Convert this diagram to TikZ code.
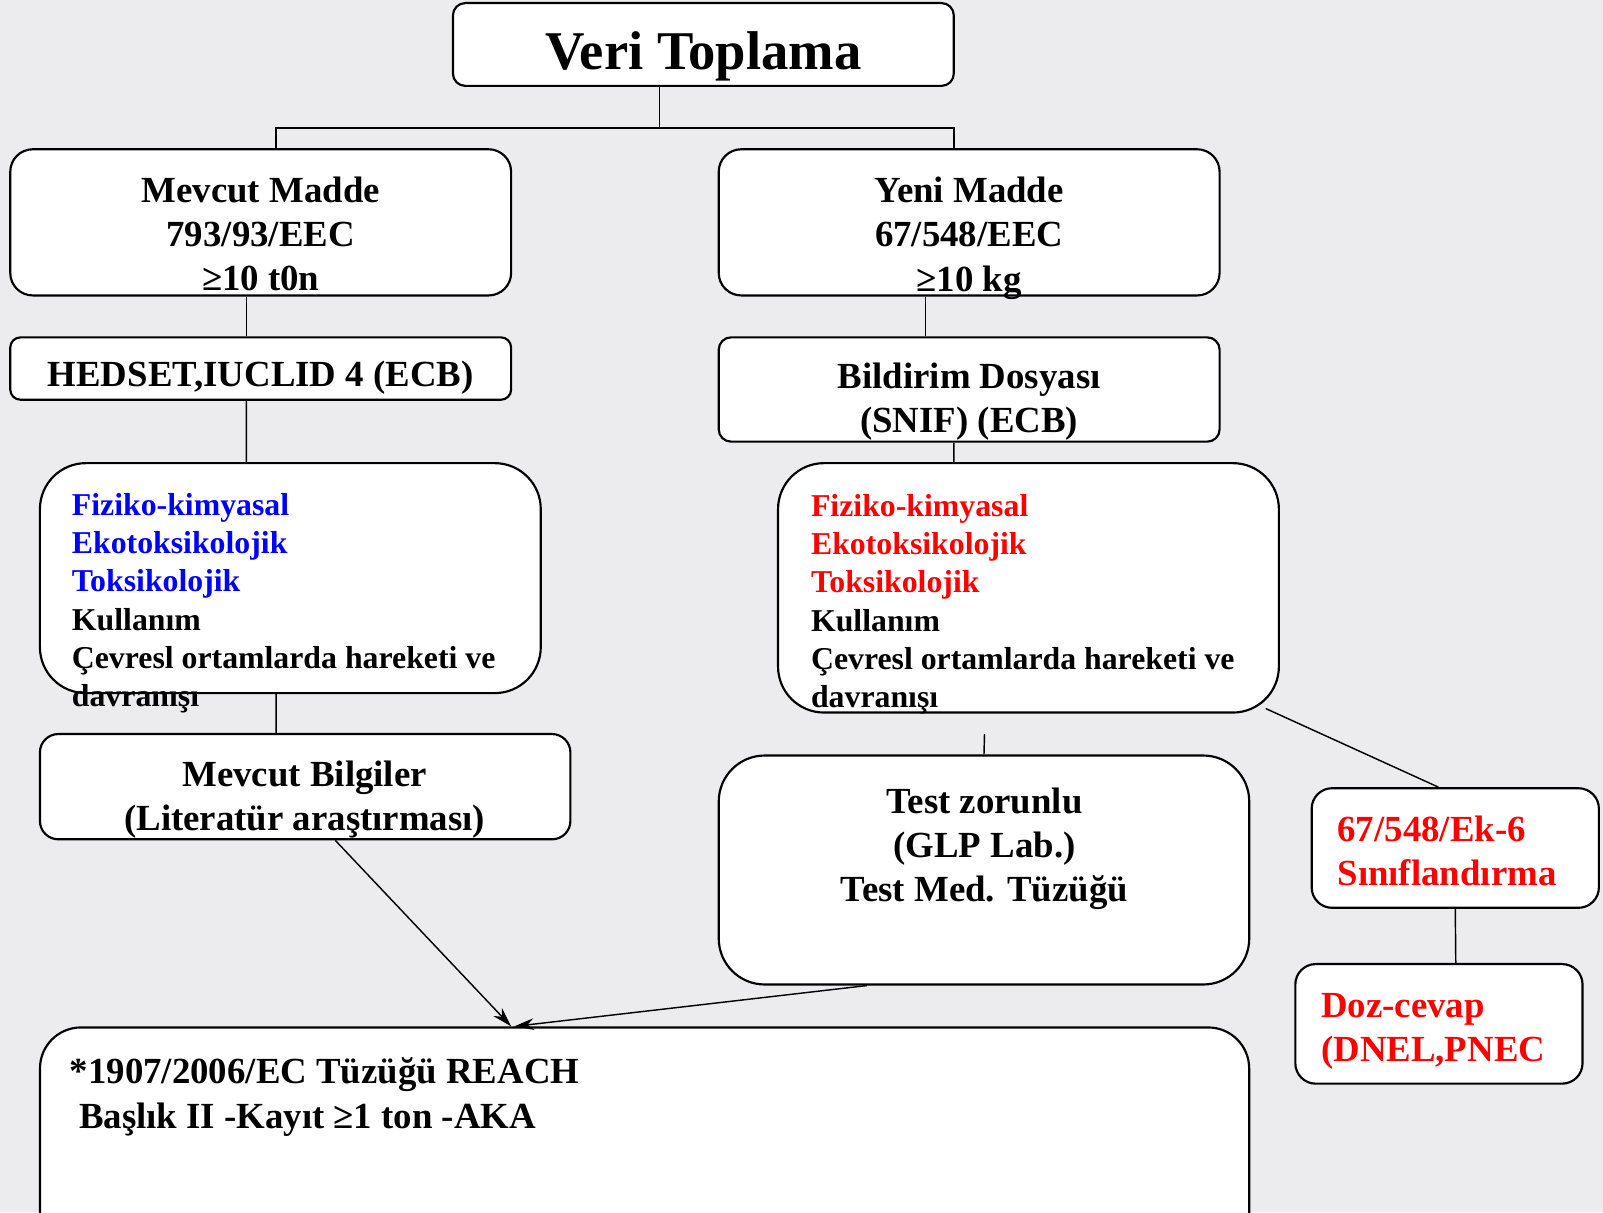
\documentclass[tikz,border=0pt]{standalone}
\usepackage{fontspec}
\setmainfont{Liberation Serif}
\usetikzlibrary{arrows.meta}
\definecolor{backgr}{RGB}{236,235,237}
\definecolor{pureblue}{RGB}{0,0,255}
\definecolor{purered}{RGB}{255,0,0}

\begin{document}
\begin{tikzpicture}[x=0.02cm,y=-0.02cm]
    \tikzstyle{box}=[draw,line width=1.2pt,fill=white,inner sep=0pt]
    \tikzstyle{txt}=[inner sep=0pt,align=center,font=\fontsize{20.5}{24.6}\selectfont\bfseries]
    \tikzstyle{ltxt}=[txt,align=left,anchor=west]
    \tikzstyle{lst}=[inner sep=0pt,align=left,anchor=west,font=\fontsize{17.7}{21.3}\selectfont\bfseries]
    \tikzstyle{link}=[line width=0.8pt]
    \tikzstyle{arr}=[line width=0.8pt,-{Stealth[length=11pt,width=6.5pt]}]
    \fill[backgr](0,0)rectangle(1568,1186);
    \useasboundingbox(0,0)rectangle(1568,1186);
    \clip(0,0)rectangle(1568,1186);
    % boxes
    \draw node[box,minimum width=9.8cm,minimum height=1.62cm,rounded corners=0.24cm](top)at(688,43.5){}
          node[box,minimum width=9.8cm,minimum height=2.86cm,rounded corners=0.44cm](mevcut)at(255,217.5){}
          node[box,minimum width=9.8cm,minimum height=2.86cm,rounded corners=0.44cm](yeni)at(948,217.5){}
          node[box,minimum width=9.8cm,minimum height=1.22cm,rounded corners=0.2cm](hedset)at(255,360.5){}
          node[box,minimum width=9.8cm,minimum height=2.04cm,rounded corners=0.24cm](bildirim)at(948,381){}
          node[box,minimum width=9.8cm,minimum height=4.5cm,rounded corners=0.9cm](fizb)at(284,565.5){}
          node[box,minimum width=9.8cm,minimum height=4.88cm,rounded corners=0.9cm](fizr)at(1006,575){}
          node[box,minimum width=10.38cm,minimum height=2.06cm,rounded corners=0.36cm](bilgi)at(298.5,769.5){}
          node[box,minimum width=10.38cm,minimum height=4.48cm,rounded corners=0.9cm](test)at(962.5,851){}
          node[box,minimum width=5.62cm,minimum height=2.34cm,rounded corners=0.4cm](ek6)at(1423.5,829.5){}
          node[box,minimum width=5.62cm,minimum height=2.34cm,rounded corners=0.4cm](doz)at(1407.5,1001.5){}
          node[box,minimum width=23.66cm,minimum height=4.5cm,rounded corners=0.8cm](reach)at(630.5,1117.5){};
    % texts
    \node[txt,font=\fontsize{30.4}{36}\selectfont\bfseries](ttop)at(688,55){Veri Toplama};
    \node[txt](tmevcut)at(255,229){Mevcut Madde\\793/93/EEC\\≥10 t0n};
    \node[txt](tyeni)at(948,233){Yeni Madde\\67/548/EEC\\≥10 kg};
    \node[txt](thedset)at(255,369){HEDSET,IUCLID 4 (ECB)};
    \node[txt](tbildirim)at(948,393){Bildirim Dosyası\\(SNIF) (ECB)};
    \node[lst](tfizb)at(70,590){\textcolor{pureblue}{Fiziko-kimyasal}\\\textcolor{pureblue}{Ekotoksikolojik}\\
        \textcolor{pureblue}{Toksikolojik}\\Kullanım\\Çevresl ortamlarda hareketi ve\\davranışı};
    \node[lst](tfizr)at(793,591){\textcolor{purered}{Fiziko-kimyasal}\\\textcolor{purered}{Ekotoksikolojik}\\
        \textcolor{purered}{Toksikolojik}\\Kullanım\\Çevresl ortamlarda hareketi ve\\davranışı};
    \node[txt](tbilgi)at(298,782){Mevcut Bilgiler\\(Literatür araştırması)};
    \node[txt](ttest)at(963,830){Test zorunlu\\(GLP Lab.)\\Test Med. Tüzüğü};
    \node[ltxt,text=purered](tek6)at(1308,832){67/548/Ek-6\\Sınıflandırma};
    \node[ltxt,text=purered](tdoz)at(1292,1008.5){Doz-cevap\\(DNEL,PNEC};
    \node[ltxt](treach)at(68,1073){*1907/2006/EC Tüzüğü REACH\\\hspace*{0.25em}Başlık II -Kayıt ≥1 ton -AKA};
    % connectors
    \coordinate(split)at(645,125);
    \coordinate(jl)at(270,125);
    \coordinate(jr)at(933,125);
    \coordinate(stub)at(963,718);
    \draw[link](top.south -| split)--(split);
    \draw[link](mevcut.north -| jl)--(jl)--(jr)--(yeni.north -| jr);
    \draw[link]([xshift=-0.28cm]mevcut.south)--([xshift=-0.28cm]hedset.north);
    \draw[link]([xshift=-0.86cm]yeni.south)--([xshift=-0.86cm]bildirim.north);
    \draw[link]([xshift=-0.28cm]hedset.south)--([xshift=-0.86cm]fizb.north);
    \draw[link]([xshift=-0.3cm]bildirim.south)--([xshift=-1.46cm]fizr.north);
    \draw[link]([xshift=-0.28cm]fizb.south)--([xshift=-0.57cm]bilgi.north);
    \draw[link](stub)--(test.north);
    \draw[link]([shift={(-0.28cm,0.1cm)}]fizr.south east)--([xshift=-0.33cm]ek6.north);
    \draw[link](ek6.south)--([xshift=0.33cm]doz.north);
    \draw[arr]([xshift=0.59cm]bilgi.south)--([xshift=-2.61cm]reach.north);
    \draw[arr]([xshift=-2.29cm]test.south)--([xshift=-2.55cm]reach.north);
\end{tikzpicture}
\end{document}
